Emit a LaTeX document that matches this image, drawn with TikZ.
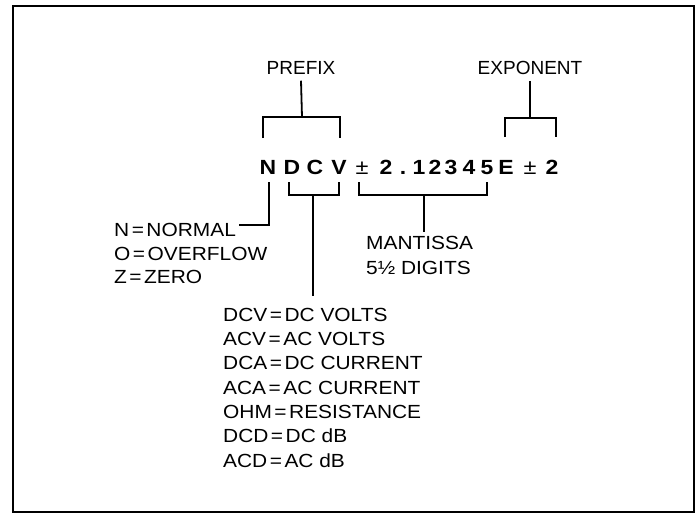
\documentclass[tikz,border=0pt]{standalone}
\usepackage{fontspec}
\setmainfont[FakeStretch=1.1]{Liberation Sans}
\newfontfamily\hdrfont{Liberation Sans}
\newfontfamily\bigfont[FakeStretch=1.12]{Liberation Sans}
\newcommand{\eqs}{\kern2.5pt=\kern2.5pt}
\tikzset{
  hdr/.style={inner sep=0pt, font=\hdrfont\fontsize{19}{23}\selectfont},
  lbl/.style={inner sep=0pt, font=\fontsize{19}{23}\selectfont},
  lst/.style={lbl, anchor=west},
  big/.style={inner sep=0pt, anchor=base, font=\bigfont\fontsize{20.5}{24}\selectfont\bfseries},
  pmst/.style={inner sep=0pt, anchor=base, font=\bigfont\fontsize{21}{24}\selectfont},
  ln/.style={line width=1.8pt},
}
\begin{document}
\begin{tikzpicture}[x=1pt,y=-1pt]
\useasboundingbox (0,0) rectangle (696,515);
\draw[line width=2.6pt] (13,6) rectangle (694,512);
% headers
\node[hdr] (prefix) at (301,68) {PREFIX};
\node[hdr] (exponent) at (530,68) {EXPONENT};
% main string
\foreach \x/\c/\n in {268/N/cN,292/D/cD,315/C/cC,339/V/cV,386/2/c2,403/./cdot,419/1/c1,435/2/c2b,451/3/c3,469/4/c4,487/5/c5,506/E/cE,552/2/c2e}
  \node[big] (\n) at (\x,174) {\c};
\node[pmst] (pm1) at (362,174) {±};
\node[pmst] (pm2) at (530,174) {±};
% prefix bracket
\coordinate (pM) at (302,117);
\coordinate (pL) at (263,138);
\coordinate (pR) at (340,138);
\draw[ln] (prefix.south) ++(0,6) -- (pM);
\draw[ln] (pL) |- (pM) -| (pR);
% exponent bracket
\coordinate (eM) at (530,118);
\coordinate (eL) at (505,137);
\coordinate (eR) at (556,137);
\draw[ln] (exponent.south) ++(0,6) -- (eM);
\draw[ln] (eL) |- (eM) -| (eR);
% N connector
\coordinate (nT) at (269,182);
\coordinate (nE) at (239,225);
\draw[ln] (nT) |- (nE);
% function bracket
\coordinate (fL) at (289,182);
\coordinate (fR) at (339,182);
\coordinate (fM) at (313,195);
\coordinate (fB) at (313,296);
\draw[ln] (fL) |- (fM) -| (fR);
\draw[ln] (fM) -- (fB);
% mantissa bracket
\coordinate (mL) at (359,182);
\coordinate (mR) at (487,182);
\coordinate (mM) at (424,195);
\coordinate (mB) at (424,232);
\draw[ln] (mL) |- (mM) -| (mR);
\draw[ln] (mM) -- (mB);
% left list
\node[lst] (normal) at (114,230) {N\eqs NORMAL};
\node[lst] (overflow) at (114,253.5) {O\eqs OVERFLOW};
\node[lst] (zero) at (114,277) {Z\eqs ZERO};
% mantissa text
\node[lst] (mant) at (366,243) {MANTISSA};
\node[lst] (digits) at (366,268) {5½ DIGITS};
% function list
\node[lst] (f1) at (223,315) {DCV\eqs DC VOLTS};
\node[lst] (f2) at (223,339.2) {ACV\eqs AC VOLTS};
\node[lst] (f3) at (223,363.4) {DCA\eqs DC CURRENT};
\node[lst] (f4) at (223,387.6) {ACA\eqs AC CURRENT};
\node[lst] (f5) at (223,411.8) {OHM\eqs RESISTANCE};
\node[lst] (f6) at (223,436) {DCD\eqs DC dB};
\node[lst] (f7) at (223,460.2) {ACD\eqs AC dB};
\end{tikzpicture}
\end{document}
